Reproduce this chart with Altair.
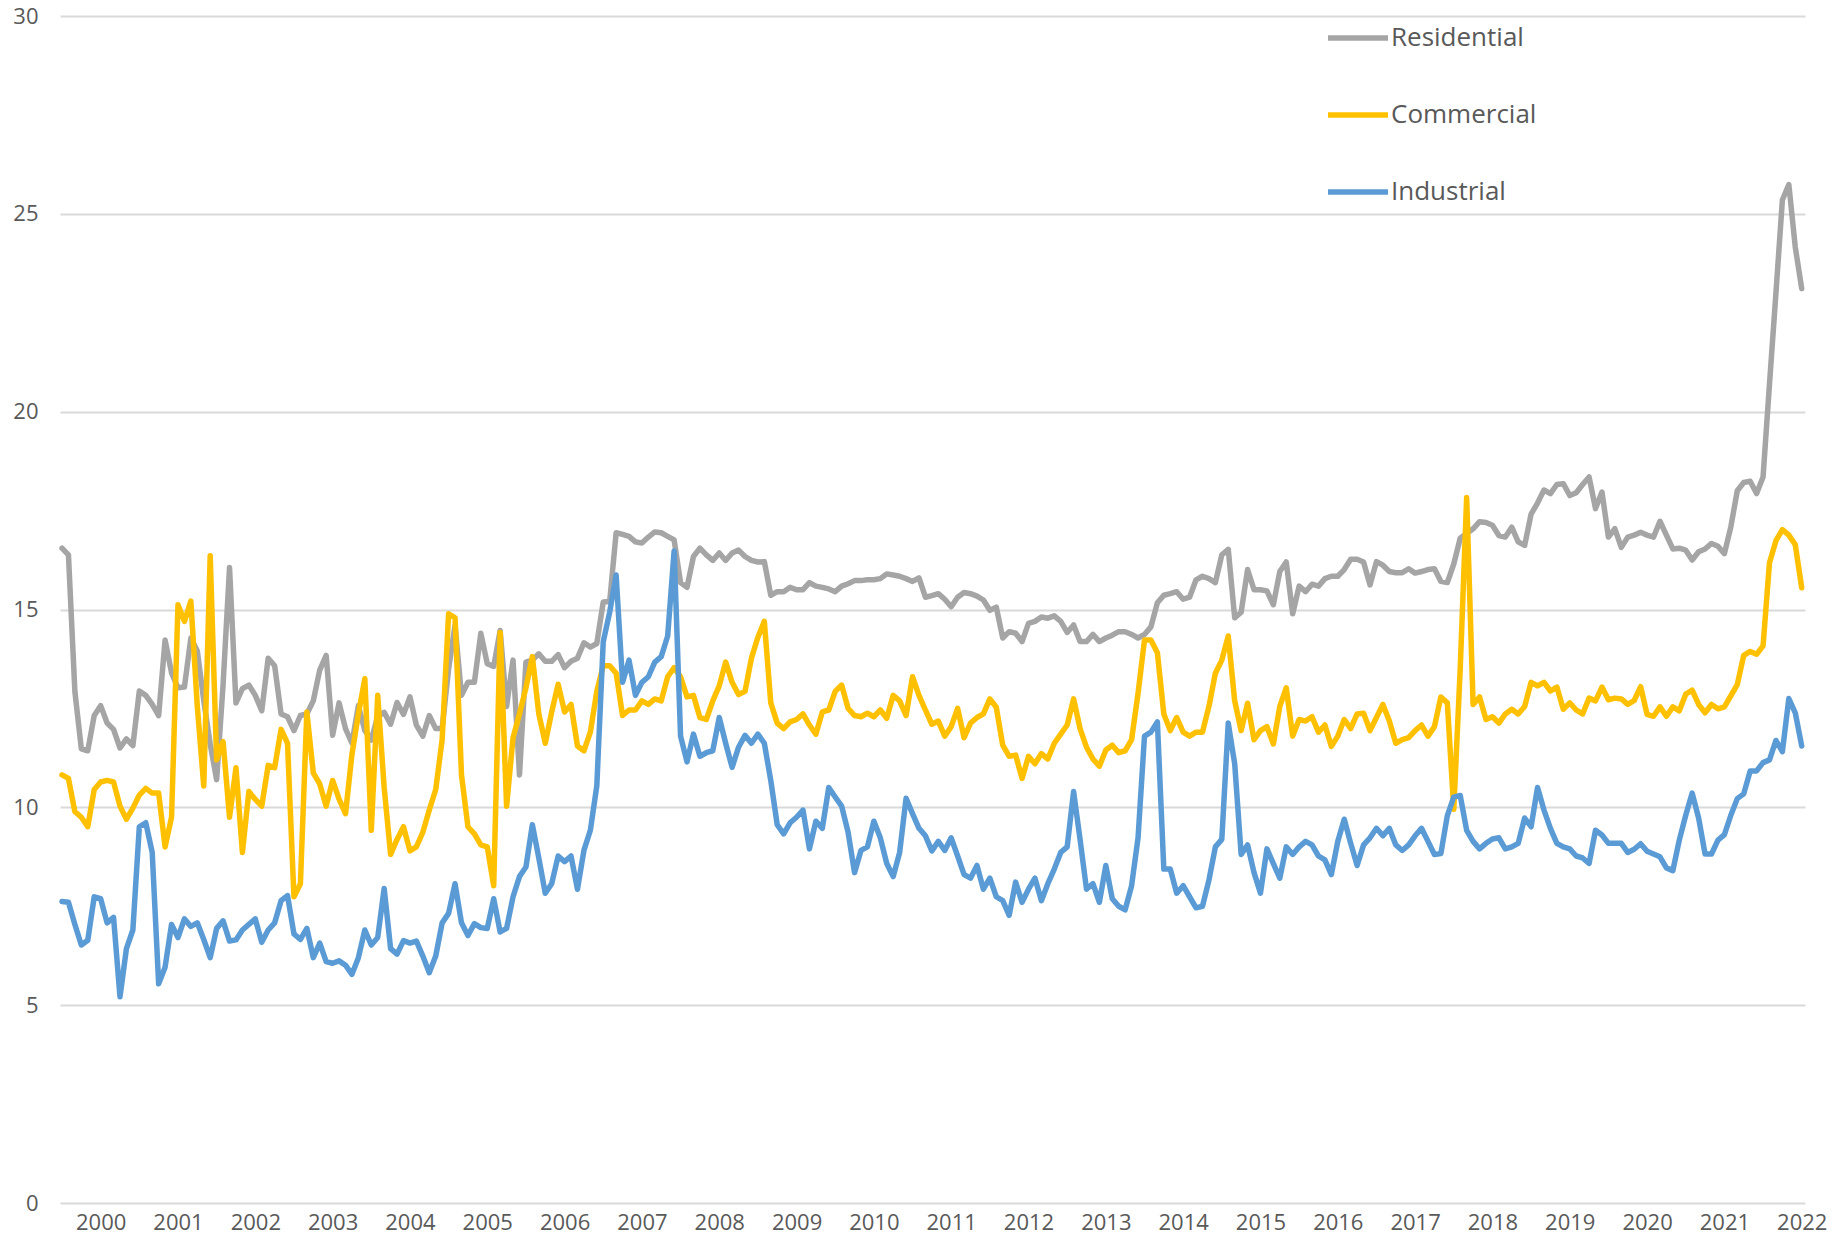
import altair as alt
import pandas as pd

series_names = ["Residential", "Commercial", "Industrial"]
series_colors = ["#A5A5A5", "#FFC000", "#5B9BD5"]
year_labels = list(range(2000, 2023))
y_ticks = [0, 5, 10, 15, 20, 25, 30]

# monthly values, Jan 2000 .. Jul 2022 (one row per year)
residential = [
    16.55, 16.38, 12.93, 11.48, 11.43, 12.32, 12.57, 12.13, 11.97, 11.5, 11.73, 11.56,
    12.94, 12.83, 12.6, 12.32, 14.23, 13.4, 13.02, 13.04, 14.28, 13.95, 12.7, 11.6,
    10.7, 13.1, 16.06, 12.64, 13.0, 13.09, 12.83, 12.44, 13.77, 13.58, 12.36, 12.29,
    11.94, 12.32, 12.36, 12.69, 13.47, 13.84, 11.82, 12.64, 11.99, 11.62, 12.57, 11.94,
    11.7, 12.3, 12.4, 12.1, 12.65, 12.35, 12.79, 12.08, 11.8, 12.32, 11.99, 11.99,
    13.5, 14.6, 12.83, 13.16, 13.16, 14.4, 13.63, 13.56, 14.47, 12.55, 13.72, 10.82,
    13.67, 13.72, 13.88, 13.69, 13.69, 13.86, 13.53, 13.69, 13.77, 14.16, 14.05, 14.14,
    15.19, 15.2, 16.94, 16.9, 16.85, 16.71, 16.68, 16.83, 16.96, 16.94, 16.85, 16.76,
    15.68, 15.56, 16.34, 16.55, 16.38, 16.24, 16.43, 16.24, 16.43, 16.5, 16.34, 16.24,
    16.2, 16.21, 15.36, 15.45, 15.45, 15.56, 15.5, 15.5, 15.68, 15.59, 15.56, 15.52,
    15.45, 15.59, 15.65, 15.73, 15.73, 15.75, 15.75, 15.78, 15.9, 15.87, 15.84, 15.78,
    15.71, 15.8, 15.31, 15.35, 15.4, 15.26, 15.07, 15.31, 15.43, 15.4, 15.34, 15.24,
    14.98, 15.06, 14.28, 14.44, 14.4, 14.19, 14.65, 14.7, 14.81, 14.78, 14.84, 14.7,
    14.42, 14.61, 14.19, 14.19, 14.37, 14.19, 14.28, 14.35, 14.44, 14.44, 14.37, 14.28,
    14.37, 14.56, 15.17, 15.36, 15.4, 15.45, 15.26, 15.31, 15.75, 15.84, 15.78, 15.68,
    16.38, 16.52, 14.79, 14.93, 16.01, 15.5, 15.5, 15.47, 15.12, 15.96, 16.2, 14.89,
    15.59, 15.45, 15.64, 15.59, 15.78, 15.84, 15.84, 16.01, 16.27, 16.27, 16.2, 15.62,
    16.21, 16.12, 15.96, 15.93, 15.93, 16.03, 15.92, 15.96, 16.01, 16.03, 15.71, 15.68,
    16.15, 16.8, 16.92, 17.04, 17.22, 17.2, 17.13, 16.87, 16.83, 17.08, 16.71, 16.62,
    17.41, 17.69, 18.02, 17.93, 18.16, 18.18, 17.88, 17.95, 18.16, 18.35, 17.55, 17.97,
    16.83, 17.04, 16.57, 16.83, 16.88, 16.95, 16.88, 16.83, 17.23, 16.88, 16.53, 16.55,
    16.5, 16.25, 16.46, 16.53, 16.67, 16.6, 16.41, 17.09, 18.0, 18.21, 18.24, 17.93,
    18.35, 20.7, 23.0, 25.35, 25.74, 24.16, 23.11,
]

commercial = [
    10.82, 10.73, 9.89, 9.75, 9.51, 10.45, 10.64, 10.68, 10.64, 10.03, 9.7, 9.98,
    10.31, 10.48, 10.36, 10.36, 9.0, 9.75, 15.12, 14.7, 15.21, 12.55, 10.54, 16.36,
    11.2, 11.66, 9.75, 11.0, 8.86, 10.4, 10.2, 10.03, 11.06, 11.0, 11.97, 11.62,
    7.74, 8.07, 12.41, 10.87, 10.59, 10.03, 10.68, 10.21, 9.84, 11.34, 12.36, 13.25,
    9.42, 12.83, 10.5, 8.81, 9.19, 9.51, 8.9, 9.0, 9.37, 9.93, 10.45, 11.71,
    14.89, 14.79, 10.82, 9.51, 9.33, 9.05, 9.0, 8.02, 14.42, 10.03, 11.76, 12.36,
    13.02, 13.81, 12.36, 11.62, 12.41, 13.11, 12.41, 12.6, 11.55, 11.43, 11.9, 12.93,
    13.58, 13.58, 13.39, 12.32, 12.46, 12.46, 12.69, 12.6, 12.74, 12.69, 13.3, 13.53,
    13.3, 12.79, 12.83, 12.27, 12.22, 12.69, 13.07, 13.67, 13.16, 12.85, 12.93, 13.77,
    14.3, 14.7, 12.64, 12.13, 11.99, 12.16, 12.22, 12.36, 12.08, 11.85, 12.41, 12.46,
    12.93, 13.09, 12.5, 12.32, 12.29, 12.38, 12.29, 12.46, 12.25, 12.83, 12.69, 12.32,
    13.3, 12.83, 12.46, 12.1, 12.18, 11.8, 12.04, 12.5, 11.76, 12.13, 12.27, 12.36,
    12.74, 12.53, 11.57, 11.29, 11.32, 10.73, 11.29, 11.1, 11.36, 11.22, 11.62, 11.85,
    12.08, 12.74, 11.99, 11.52, 11.22, 11.04, 11.45, 11.57, 11.38, 11.43, 11.71, 12.88,
    14.23, 14.23, 13.91, 12.36, 11.94, 12.27, 11.9, 11.8, 11.9, 11.9, 12.55, 13.39,
    13.72, 14.33, 12.69, 11.94, 12.63, 11.71, 11.94, 12.04, 11.6, 12.55, 13.02, 11.8,
    12.22, 12.18, 12.29, 11.9, 12.08, 11.54, 11.8, 12.22, 11.99, 12.36, 12.38, 11.94,
    12.27, 12.6, 12.18, 11.62, 11.71, 11.76, 11.94, 12.08, 11.8, 12.04, 12.79, 12.64,
    9.95, 13.5, 17.83, 12.6, 12.79, 12.22, 12.29, 12.13, 12.36, 12.48, 12.36, 12.55,
    13.16, 13.07, 13.16, 12.94, 13.04, 12.48, 12.64, 12.46, 12.36, 12.76, 12.69, 13.04,
    12.72, 12.76, 12.74, 12.6, 12.7, 13.05, 12.35, 12.3, 12.54, 12.3, 12.54, 12.44,
    12.86, 12.96, 12.6, 12.39, 12.6, 12.49, 12.54, 12.82, 13.1, 13.84, 13.94, 13.87,
    14.08, 16.18, 16.74, 17.02, 16.88, 16.64, 15.55,
]

industrial = [
    7.62, 7.6, 7.04, 6.52, 6.64, 7.74, 7.69, 7.08, 7.22, 5.21, 6.43, 6.9,
    9.51, 9.61, 8.86, 5.54, 5.96, 7.04, 6.71, 7.18, 6.99, 7.08, 6.66, 6.2,
    6.94, 7.13, 6.62, 6.65, 6.9, 7.04, 7.18, 6.59, 6.9, 7.08, 7.64, 7.77,
    6.8, 6.66, 6.94, 6.2, 6.57, 6.1, 6.06, 6.12, 6.01, 5.78, 6.2, 6.9,
    6.52, 6.71, 7.95, 6.43, 6.29, 6.63, 6.57, 6.62, 6.24, 5.82, 6.24, 7.08,
    7.32, 8.07, 7.08, 6.76, 7.06, 6.96, 6.94, 7.69, 6.85, 6.94, 7.74, 8.25,
    8.49, 9.56, 8.72, 7.83, 8.07, 8.77, 8.63, 8.77, 7.93, 8.91, 9.42, 10.54,
    14.19, 14.93, 15.87, 13.16, 13.72, 12.83, 13.16, 13.3, 13.67, 13.81, 14.33, 16.48,
    11.8, 11.15, 11.85, 11.29, 11.38, 11.43, 12.27, 11.62, 11.01, 11.52, 11.82, 11.62,
    11.85, 11.62, 10.68, 9.56, 9.33, 9.61, 9.75, 9.93, 8.95, 9.65, 9.47, 10.5,
    10.26, 10.03, 9.37, 8.35, 8.91, 9.0, 9.65, 9.23, 8.58, 8.25, 8.86, 10.23,
    9.84, 9.47, 9.28, 8.9, 9.14, 8.91, 9.23, 8.77, 8.3, 8.21, 8.53, 7.93,
    8.21, 7.74, 7.64, 7.27, 8.11, 7.6, 7.93, 8.21, 7.64, 8.07, 8.44, 8.86,
    9.0, 10.4, 9.19, 7.93, 8.07, 7.6, 8.53, 7.69, 7.5, 7.41, 8.02, 9.23,
    11.8, 11.9, 12.16, 8.44, 8.44, 7.83, 8.02, 7.74, 7.46, 7.5, 8.16, 9.0,
    9.19, 12.13, 11.1, 8.81, 9.05, 8.35, 7.83, 8.95, 8.58, 8.21, 9.0, 8.81,
    9.0, 9.14, 9.05, 8.77, 8.67, 8.3, 9.14, 9.7, 9.09, 8.53, 9.05, 9.23,
    9.47, 9.28, 9.47, 9.05, 8.91, 9.05, 9.28, 9.47, 9.14, 8.81, 8.83, 9.79,
    10.26, 10.3, 9.42, 9.14, 8.95, 9.09, 9.2, 9.23, 8.95, 9.0, 9.09, 9.73,
    9.51, 10.5, 9.93, 9.47, 9.09, 9.0, 8.95, 8.77, 8.72, 8.58, 9.42, 9.3,
    9.09, 9.09, 9.09, 8.86, 8.94, 9.08, 8.89, 8.82, 8.75, 8.47, 8.4, 9.17,
    9.8, 10.36, 9.73, 8.82, 8.82, 9.17, 9.31, 9.8, 10.22, 10.34, 10.92, 10.92,
    11.13, 11.2, 11.69, 11.41, 12.75, 12.39, 11.55,
]

rows = []
for name, vals in zip(series_names, [residential, commercial, industrial]):
    for i, v in enumerate(vals):
        rows.append({"series": name, "month": i, "value": v})
df = pd.DataFrame(rows)

# year labels sit at mid-year (July) positions
year_positions = [6 + 12 * k for k in range(len(year_labels))]
n_last = len(residential) - 1

label_font = "Open Sans"
label_color = "#595959"

chart = (
    alt.Chart(df)
    .mark_line(strokeWidth=5.5, strokeJoin="round", strokeCap="round")
    .encode(
        x=alt.X(
            "month:Q",
            scale=alt.Scale(domain=[-0.31, n_last + 0.51], nice=False, zero=False),
            axis=alt.Axis(
                values=year_positions,
                labelExpr="'' + (2000 + (datum.value - 6) / 12)",
                title=None,
                grid=False,
                ticks=False,
                tickSize=0,
                domain=False,
                labelFont=label_font,
                labelFontSize=22,
                labelColor=label_color,
                labelPadding=9,
                labelFlush=False,
                labelOverlap=False,
            ),
        ),
        y=alt.Y(
            "value:Q",
            scale=alt.Scale(domain=[0, 30], nice=False),
            axis=alt.Axis(
                values=y_ticks,
                title=None,
                ticks=False,
                tickSize=0,
                domain=False,
                grid=True,
                gridColor="#D9D9D9",
                gridWidth=2,
                labelFont=label_font,
                labelFontSize=22,
                labelColor=label_color,
                labelPadding=22,
            ),
        ),
        color=alt.Color(
            "series:N",
            sort=series_names,
            scale=alt.Scale(domain=series_names, range=series_colors),
            legend=alt.Legend(
                title=None,
                orient="none",
                legendX=1265,
                legendY=-11,
                direction="vertical",
                symbolType="stroke",
                symbolSize=3600,
                symbolStrokeWidth=5.5,
                labelFont=label_font,
                labelFontSize=26,
                labelColor=label_color,
                labelOffset=0,
                rowPadding=31,
                padding=0,
            ),
        ),
    )
    .properties(
        width=1745,
        height=1187,
        autosize=alt.AutoSizeParams(type="none"),
        padding={"left": 52, "top": 8, "right": 23, "bottom": 33},
    )
    .configure_view(strokeWidth=0)
)

chart.save("out.html", embed_options={"renderer": "svg", "actions": False})
